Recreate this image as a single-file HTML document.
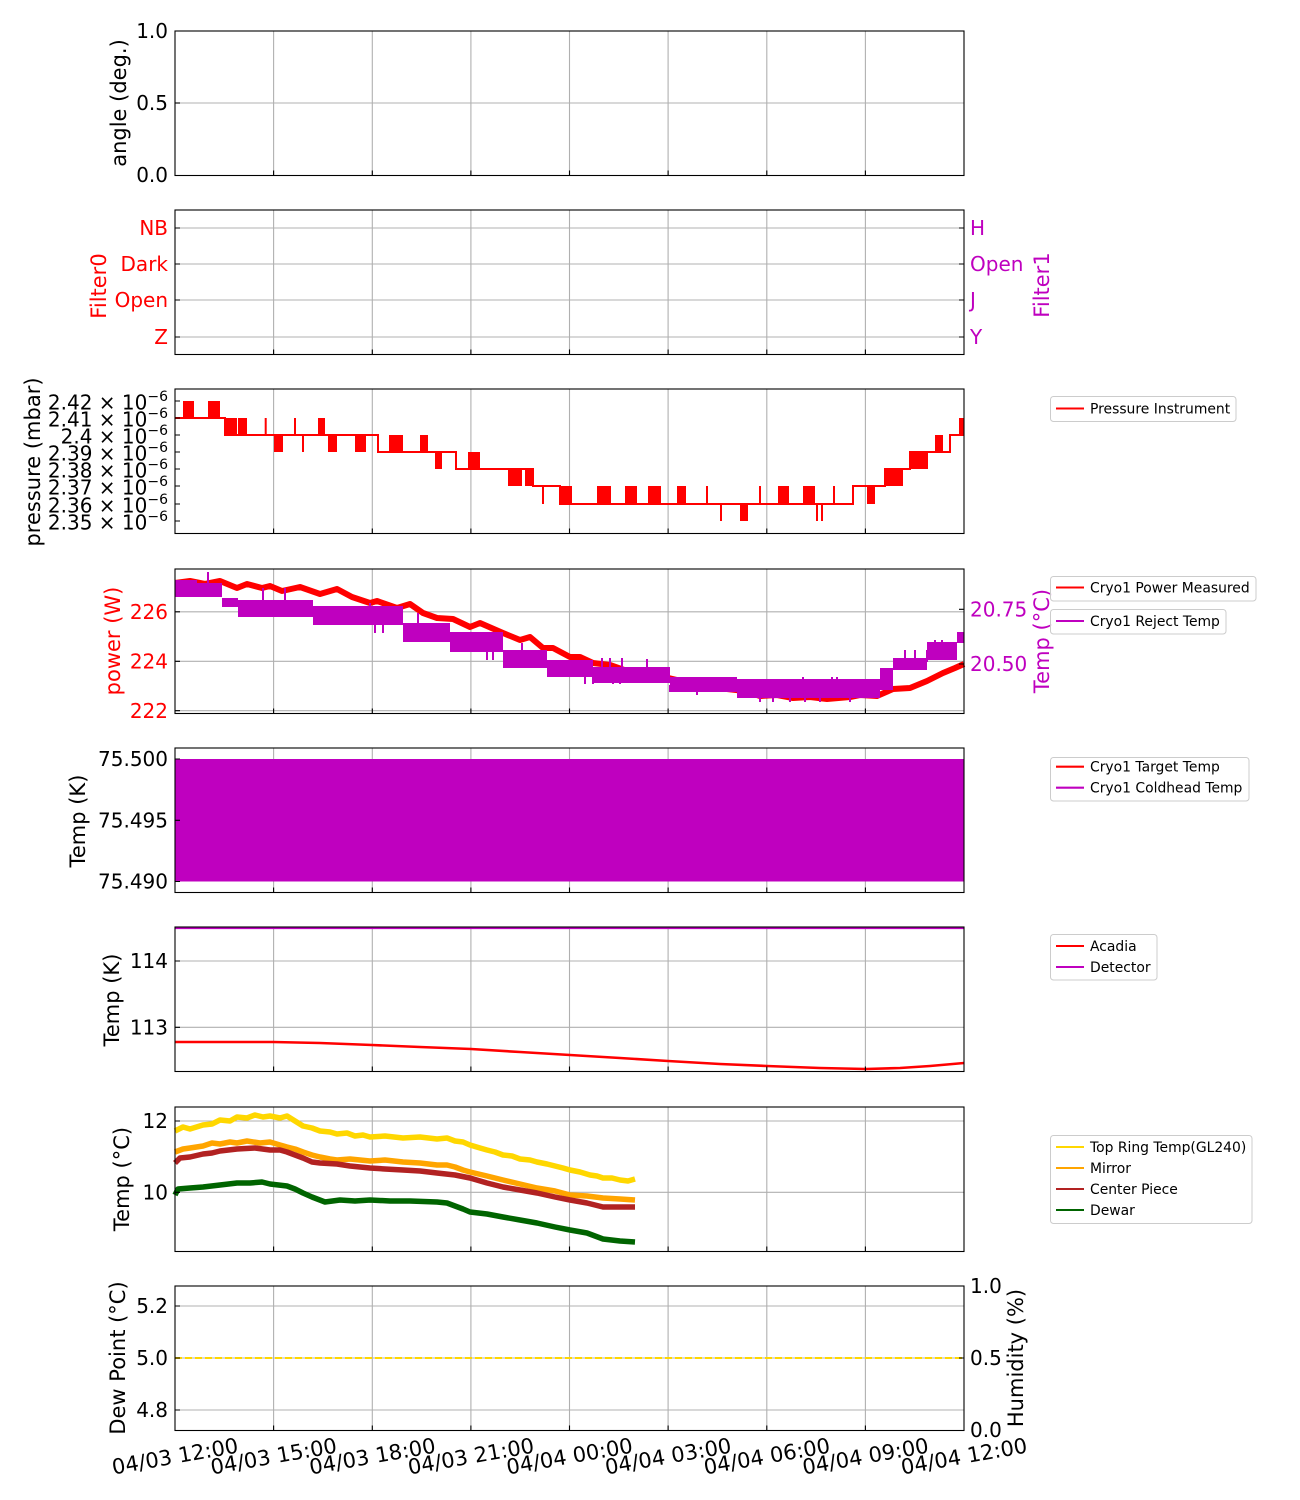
<!DOCTYPE html>
<html><head><meta charset="utf-8"><style>
html,body{margin:0;padding:0;background:#fff;}
svg{display:block;}
text{font-family:"DejaVu Sans","Liberation Sans",sans-serif;}
.tl{font-size:20px;fill:#000;}
.xl{font-size:21px;fill:#000;}
.al{font-size:21px;fill:#000;}
.lg{font-size:13.9px;fill:#000;}
.g{stroke:#b0b0b0;stroke-width:1.1;fill:none;}
.sp{fill:none;stroke:#000;stroke-width:1.1;}
.tk{stroke:#000;stroke-width:1.1;fill:none;}
.lf{fill:#fff;fill-opacity:0.8;stroke:#cccccc;stroke-width:1;}
</style></head><body>
<svg width="1300" height="1500" viewBox="0 0 1300 1500" xmlns="http://www.w3.org/2000/svg">
<defs>
<g id="vg">
<path class="g" d="M273.6 0V144.5M372.3 0V144.5M470.9 0V144.5M569.5 0V144.5M668.1 0V144.5M766.8 0V144.5M865.4 0V144.5"/>
</g>
<g id="bt">
<path class="tk" d="M273.6 144.5v-5M372.3 144.5v-5M470.9 144.5v-5M569.5 144.5v-5M668.1 144.5v-5M766.8 144.5v-5M865.4 144.5v-5"/>
</g>
</defs>

<!-- ============ PANEL 1 ============ -->
<use href="#vg" y="31"/>
<path class="g" d="M175 103H964"/>
<path class="tk" d="M175 103h5"/>
<use href="#bt" y="31"/>
<rect class="sp" x="175" y="31" width="789" height="144.5"/>
<text class="tl" x="168" y="38.2" text-anchor="end">1.0</text>
<text class="tl" x="168" y="110.2" text-anchor="end">0.5</text>
<text class="tl" x="168" y="182.2" text-anchor="end">0.0</text>
<text class="al" transform="translate(126,103) rotate(-90)" text-anchor="middle">angle (deg.)</text>

<!-- ============ PANEL 2 ============ -->
<use href="#vg" y="210"/>
<path class="g" d="M175 228H964M175 264H964M175 300H964M175 337H964"/>
<path class="tk" d="M175 228h5M175 264h5M175 300h5M175 337h5M964 228h-5M964 264h-5M964 300h-5M964 337h-5"/>
<use href="#bt" y="210"/>
<rect class="sp" x="175" y="210" width="789" height="144.5"/>
<g class="tl" style="fill:#ff0000">
<text x="168" y="235.2" text-anchor="end">NB</text>
<text x="168" y="271.2" text-anchor="end">Dark</text>
<text x="168" y="307.2" text-anchor="end">Open</text>
<text x="168" y="344.2" text-anchor="end">Z</text>
</g>
<g class="tl" style="fill:#bf00bf">
<text x="970" y="235.2">H</text>
<text x="970" y="271.2">Open</text>
<text x="970" y="307.2">J</text>
<text x="970" y="344.2">Y</text>
</g>
<text class="al" style="fill:#ff0000" transform="translate(106,286) rotate(-90)" text-anchor="middle">Filter0</text>
<text class="al" style="fill:#bf00bf" transform="translate(1049,285) rotate(-90)" text-anchor="middle">Filter1</text>

<!-- ============ PANEL 3 ============ -->
<use href="#vg" y="389"/>
<use href="#bt" y="389"/>
<g fill="#ff0000">
<rect x="183" y="401" width="11" height="17"/>
<rect x="208" y="401" width="12" height="17"/>
<rect x="225" y="418" width="12" height="17"/>
<rect x="238" y="418" width="9" height="17"/>
<rect x="274" y="435" width="9" height="17"/>
<rect x="318" y="418" width="7" height="17"/>
<rect x="328" y="435" width="9" height="17"/>
<rect x="355" y="435" width="11" height="17"/>
<rect x="389" y="435" width="14" height="17"/>
<rect x="420" y="435" width="8" height="17"/>
<rect x="435" y="452" width="7" height="17"/>
<rect x="468" y="452" width="12" height="17"/>
<rect x="508" y="469" width="14" height="17"/>
<rect x="525" y="469" width="8" height="17"/>
<rect x="560" y="486" width="12" height="18"/>
<rect x="597" y="486" width="14" height="18"/>
<rect x="625" y="486" width="12" height="18"/>
<rect x="648" y="486" width="13" height="18"/>
<rect x="677" y="486" width="9" height="18"/>
<rect x="740" y="504" width="8" height="17"/>
<rect x="778" y="486" width="11" height="18"/>
<rect x="803" y="486" width="12" height="18"/>
<rect x="867" y="486" width="8" height="18"/>
<rect x="885" y="469" width="18" height="17"/>
<rect x="910" y="452" width="18" height="17"/>
<rect x="935" y="435" width="8" height="17"/>
<rect x="959" y="418" width="5" height="17"/>
</g>
<path fill="none" stroke="#ff0000" stroke-width="2" d="M175 418H225V435H378V452H456V469H533V486H560V504H853V486H885V469H910V452H950V435H964"/>
<path fill="none" stroke="#ff0000" stroke-width="2" d="M265.7 418V435M295 418V435M303 435V452M543 486V504M707 486V504M721 504V521M760 486V504M817 504V521M822 504V521M834 486V504"/>
<path class="tk" d="M175 401h5M175 418h5M175 435h5M175 452h5M175 469h5M175 486h5M175 504h5M175 521h5"/>
<rect class="sp" x="175" y="389" width="789" height="144.5"/>
<g class="tl">
<text x="168" y="409.5" text-anchor="end">2.42 × 10<tspan dy="-8.5" font-size="14">−6</tspan></text>
<text x="168" y="426.5" text-anchor="end">2.41 × 10<tspan dy="-8.5" font-size="14">−6</tspan></text>
<text x="168" y="443.5" text-anchor="end">2.4 × 10<tspan dy="-8.5" font-size="14">−6</tspan></text>
<text x="168" y="460.5" text-anchor="end">2.39 × 10<tspan dy="-8.5" font-size="14">−6</tspan></text>
<text x="168" y="477.5" text-anchor="end">2.38 × 10<tspan dy="-8.5" font-size="14">−6</tspan></text>
<text x="168" y="494.5" text-anchor="end">2.37 × 10<tspan dy="-8.5" font-size="14">−6</tspan></text>
<text x="168" y="512.5" text-anchor="end">2.36 × 10<tspan dy="-8.5" font-size="14">−6</tspan></text>
<text x="168" y="529.5" text-anchor="end">2.35 × 10<tspan dy="-8.5" font-size="14">−6</tspan></text>
</g>
<text class="al" transform="translate(40,462) rotate(-90)" text-anchor="middle">pressure (mbar)</text>
<rect class="lf" x="1050.5" y="396.5" width="185.5" height="25" rx="3"/>
<path stroke="#ff0000" stroke-width="2.1" d="M1056 408.5H1084"/>
<text class="lg" x="1090" y="413.5">Pressure Instrument</text>

<!-- ============ PANEL 4 ============ -->
<use href="#vg" y="569"/>
<path class="g" d="M175 611.8H964M175 661.3H964M175 710.7H964"/>
<path fill="none" stroke="#ff0000" stroke-width="6" stroke-linejoin="round" d="M175,583 L190,581 L205,584 L220,581 L237,588 L247,584 L262,588 L270,586 L282,591 L300,587 L320,594 L337,589 L352,597 L370,603 L377,601 L397,608 L410,604 L423,613 L437,618 L453,619 L470,627 L480,623 L503,633 L520,640 L530,637 L543,648 L553,648 L570,657 L580,657 L593,663 L610,665 L627,671 L645,672 L660,676 L677,680 L693,686 L710,686 L727,689 L745,691 L760,696 L777,695 L793,698 L810,697 L827,699 L850,697 L860,695 L877,696 L893,689 L910,688 L927,681 L943,673 L955,668 L964,664"/>
<path fill="#bf00bf" d="M175,580 L197,580 L197,583 L222,583 L222,598 L238,598 L238,600 L313,600 L313,606 L403,606 L403,623 L450,623 L450,632 L503,632 L503,650 L547,650 L547,660 L593,660 L593,667 L670,667 L670,677 L737,677 L737,679 L880,679 L880,668 L893,668 L893,658 L927,658 L927,642 L957,642 L957,632 L964,632 L964,643 L957,643 L957,660 L927,660 L927,670 L893,670 L893,690 L880,690 L880,698 L737,698 L737,692 L670,692 L670,683 L593,683 L593,677 L547,677 L547,668 L503,668 L503,652 L450,652 L450,642 L403,642 L403,625 L313,625 L313,617 L238,617 L238,607 L222,607 L222,597 L175,597 Z"/>
<path fill="none" stroke="#bf00bf" stroke-width="2" d="M208 572V590M263 588V600M285 588V600M370 603V610M418 613V625M522 643V655M602 658V670M610 658V670M622 658V670M647 659V670M803 677V685M832 677V685M837 677V685M905 650V662M915 650V662M927 650V662M935 640V650M942 640V650M223 600V607M252 610V617M265 610V617M285 610V617M300 610V617M320 615V625M330 615V625M343 615V625M375 620V633M383 620V633M417 632V642M487 650V660M493 650V660M513 660V668M520 660V668M527 660V668M550 670V677M585 675V684M593 675V684M613 680V684M620 680V684M670 685V692M697 685V695M760 695V702M773 695V702M790 695V702M805 695V702M820 695V702M850 695V702"/>
<path class="tk" d="M175 611.8h5M175 661.3h5M175 710.7h5M964 609.3h-5M964 664h-5"/>
<use href="#bt" y="569"/>
<rect class="sp" x="175" y="569" width="789" height="144.5"/>
<g class="tl" style="fill:#ff0000">
<text x="168" y="619" text-anchor="end">226</text>
<text x="168" y="668.5" text-anchor="end">224</text>
<text x="168" y="718" text-anchor="end">222</text>
</g>
<g class="tl" style="fill:#bf00bf">
<text x="970" y="616.5">20.75</text>
<text x="970" y="671.2">20.50</text>
</g>
<text class="al" style="fill:#ff0000" transform="translate(120,641) rotate(-90)" text-anchor="middle">power (W)</text>
<text class="al" style="fill:#bf00bf" transform="translate(1049,641) rotate(-90)" text-anchor="middle">Temp (°C)</text>
<rect class="lf" x="1050.5" y="576.5" width="205.5" height="24.5" rx="3"/>
<path stroke="#ff0000" stroke-width="2.1" d="M1056 587.5H1084"/>
<text class="lg" x="1090" y="592.5">Cryo1 Power Measured</text>
<rect class="lf" x="1050.5" y="609.5" width="175.5" height="24.5" rx="3"/>
<path stroke="#bf00bf" stroke-width="2.1" d="M1056 621H1084"/>
<text class="lg" x="1090" y="626">Cryo1 Reject Temp</text>

<!-- ============ PANEL 5 ============ -->
<use href="#vg" y="748"/>
<rect x="175" y="759" width="789" height="122.5" fill="#bf00bf"/>
<path class="tk" d="M175 759h5M175 820.3h5M175 881.5h5"/>
<use href="#bt" y="748"/>
<rect class="sp" x="175" y="748" width="789" height="144.5"/>
<g class="tl">
<text x="168" y="766.2" text-anchor="end">75.500</text>
<text x="168" y="827.5" text-anchor="end">75.495</text>
<text x="168" y="888.7" text-anchor="end">75.490</text>
</g>
<text class="al" transform="translate(85,821) rotate(-90)" text-anchor="middle">Temp (K)</text>
<rect class="lf" x="1050.5" y="757.5" width="198.5" height="43.5" rx="3"/>
<path stroke="#ff0000" stroke-width="2.1" d="M1056 766.7H1084"/>
<text class="lg" x="1090" y="771.7">Cryo1 Target Temp</text>
<path stroke="#bf00bf" stroke-width="2.1" d="M1056 787.7H1084"/>
<text class="lg" x="1090" y="792.7">Cryo1 Coldhead Temp</text>

<!-- ============ PANEL 6 ============ -->
<use href="#vg" y="927"/>
<path class="g" d="M175 961H964M175 1027.3H964"/>
<path fill="none" stroke="#bf00bf" stroke-width="2.2" d="M175 928H964"/>
<path fill="none" stroke="#ff0000" stroke-width="2.6" stroke-linejoin="round" d="M175,1042 L220,1042 L273,1042 L320,1043 L372,1045 L420,1047 L471,1049 L520,1052 L570,1055 L620,1058 L668,1061 L720,1064 L767,1066 L820,1068 L866,1069 L900,1068 L930,1066 L964,1063"/>
<path class="tk" d="M175 961h5M175 1027.3h5"/>
<use href="#bt" y="927"/>
<rect class="sp" x="175" y="927" width="789" height="144.5"/>
<g class="tl">
<text x="168" y="968.2" text-anchor="end">114</text>
<text x="168" y="1034.5" text-anchor="end">113</text>
</g>
<text class="al" transform="translate(119,1000) rotate(-90)" text-anchor="middle">Temp (K)</text>
<rect class="lf" x="1050.5" y="934.5" width="106.5" height="45.5" rx="3"/>
<path stroke="#ff0000" stroke-width="2.1" d="M1056 946H1084"/>
<text class="lg" x="1090" y="951">Acadia</text>
<path stroke="#bf00bf" stroke-width="2.1" d="M1056 967H1084"/>
<text class="lg" x="1090" y="972">Detector</text>

<!-- ============ PANEL 7 ============ -->
<use href="#vg" y="1107"/>
<path class="g" d="M175 1121H964M175 1192.3H964"/>
<g fill="none" stroke-width="5.5" stroke-linejoin="round">
<path stroke="#ffd700" d="M175,1131 L183,1127 L190,1129 L203,1125 L212,1124 L220,1120 L230,1121 L237,1117 L247,1118 L255,1115 L263,1117 L270,1116 L280,1118 L287,1116 L295,1121 L303,1126 L312,1128 L320,1131 L330,1132 L337,1134 L347,1133 L355,1136 L363,1135 L370,1137 L385,1136 L403,1138 L420,1137 L437,1139 L447,1138 L455,1141 L463,1142 L470,1145 L480,1148 L487,1150 L495,1152 L503,1155 L512,1156 L520,1159 L530,1160 L537,1162 L547,1164 L555,1166 L563,1168 L570,1170 L580,1172 L590,1175 L597,1176 L603,1178 L612,1178 L620,1180 L628,1181 L635,1179"/>
<path stroke="#ffa500" d="M175,1152 L183,1149 L190,1148 L203,1146 L212,1143 L220,1144 L230,1142 L237,1143 L247,1141 L260,1143 L270,1142 L280,1145 L287,1147 L295,1149 L303,1152 L312,1155 L320,1157 L330,1159 L337,1160 L350,1159 L370,1161 L385,1160 L403,1162 L420,1163 L437,1165 L447,1165 L455,1167 L463,1170 L470,1172 L487,1176 L503,1180 L520,1184 L537,1188 L555,1191 L570,1195 L587,1196 L603,1198 L620,1199 L635,1200"/>
<path stroke="#b22222" d="M175,1163 L180,1158 L190,1157 L203,1154 L212,1153 L220,1151 L237,1149 L255,1148 L270,1150 L280,1150 L287,1152 L295,1155 L303,1158 L312,1162 L320,1163 L337,1164 L350,1166 L370,1168 L385,1169 L403,1170 L420,1171 L437,1173 L455,1175 L470,1178 L487,1183 L503,1187 L520,1190 L537,1193 L555,1197 L570,1200 L587,1203 L603,1207 L620,1207 L635,1207"/>
<path stroke="#006400" d="M175,1195 L178,1189 L190,1188 L203,1187 L220,1185 L237,1183 L250,1183 L262,1182 L270,1184 L287,1186 L295,1189 L303,1193 L312,1197 L325,1202 L340,1200 L355,1201 L370,1200 L390,1201 L410,1201 L437,1202 L447,1203 L455,1206 L463,1209 L470,1212 L487,1214 L503,1217 L520,1220 L537,1223 L555,1227 L570,1230 L587,1233 L595,1236 L603,1239 L620,1241 L635,1242"/>
</g>
<path class="tk" d="M175 1121h5M175 1192.3h5"/>
<use href="#bt" y="1107"/>
<rect class="sp" x="175" y="1107" width="789" height="144.5"/>
<g class="tl">
<text x="168" y="1128.2" text-anchor="end">12</text>
<text x="168" y="1199.5" text-anchor="end">10</text>
</g>
<text class="al" transform="translate(129,1179) rotate(-90)" text-anchor="middle">Temp (°C)</text>
<rect class="lf" x="1050.5" y="1135.5" width="201.5" height="88" rx="3"/>
<path stroke="#ffd700" stroke-width="2.1" d="M1056 1147H1084"/>
<text class="lg" x="1090" y="1152">Top Ring Temp(GL240)</text>
<path stroke="#ffa500" stroke-width="2.1" d="M1056 1168H1084"/>
<text class="lg" x="1090" y="1173">Mirror</text>
<path stroke="#b22222" stroke-width="2.1" d="M1056 1189H1084"/>
<text class="lg" x="1090" y="1194">Center Piece</text>
<path stroke="#006400" stroke-width="2.1" d="M1056 1210H1084"/>
<text class="lg" x="1090" y="1215">Dewar</text>

<!-- ============ PANEL 8 ============ -->
<use href="#vg" y="1286"/>
<path class="g" d="M175 1306H964M175 1358H964M175 1410H964"/>
<path fill="none" stroke="#ffd700" stroke-width="2" stroke-dasharray="7,3" d="M175 1358H964"/>
<path class="tk" d="M175 1306h5M175 1358h5M175 1410h5M964 1358h-5"/>
<use href="#bt" y="1286"/>
<rect class="sp" x="175" y="1286" width="789" height="144.5"/>
<g class="tl">
<text x="168" y="1313.2" text-anchor="end">5.2</text>
<text x="168" y="1365.2" text-anchor="end">5.0</text>
<text x="168" y="1417.2" text-anchor="end">4.8</text>
<text x="970" y="1293.2">1.0</text>
<text x="970" y="1365.2">0.5</text>
<text x="970" y="1437.2">0.0</text>
</g>
<text class="al" transform="translate(125,1358) rotate(-90)" text-anchor="middle">Dew Point (°C)</text>
<text class="al" transform="translate(1023,1358) rotate(-90)" text-anchor="middle">Humidity (%)</text>

<!-- x tick labels -->
<g class="xl">
<text transform="translate(175,1456) rotate(-10)" text-anchor="middle" y="7.5">04/03 12:00</text>
<text transform="translate(273.6,1456) rotate(-10)" text-anchor="middle" y="7.5">04/03 15:00</text>
<text transform="translate(372.3,1456) rotate(-10)" text-anchor="middle" y="7.5">04/03 18:00</text>
<text transform="translate(470.9,1456) rotate(-10)" text-anchor="middle" y="7.5">04/03 21:00</text>
<text transform="translate(569.5,1456) rotate(-10)" text-anchor="middle" y="7.5">04/04 00:00</text>
<text transform="translate(668.1,1456) rotate(-10)" text-anchor="middle" y="7.5">04/04 03:00</text>
<text transform="translate(766.8,1456) rotate(-10)" text-anchor="middle" y="7.5">04/04 06:00</text>
<text transform="translate(865.4,1456) rotate(-10)" text-anchor="middle" y="7.5">04/04 09:00</text>
<text transform="translate(964,1456) rotate(-10)" text-anchor="middle" y="7.5">04/04 12:00</text>
</g>
</svg>
</body></html>
